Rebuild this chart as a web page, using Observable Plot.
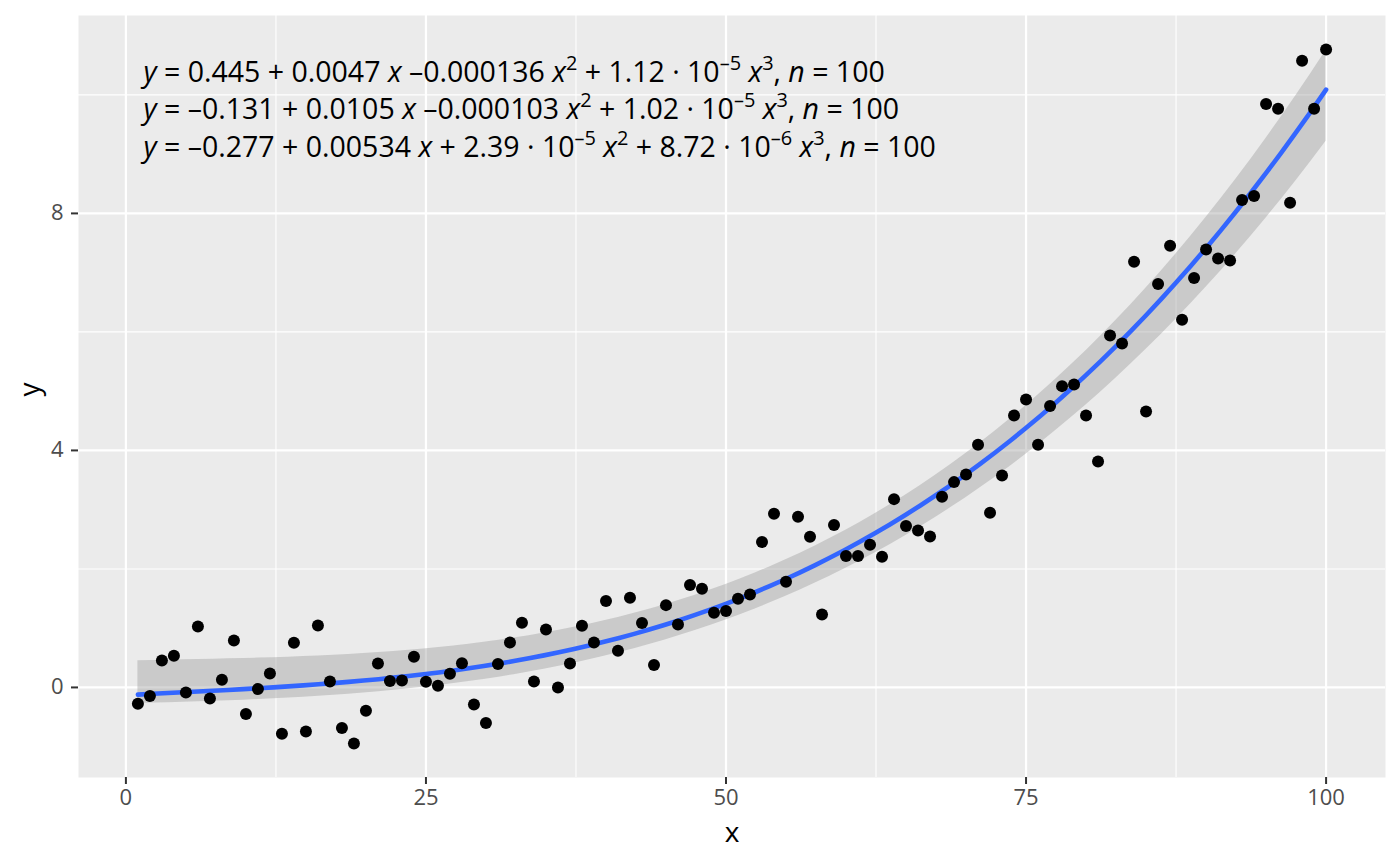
<!DOCTYPE html>
<html>
<head>
<meta charset="utf-8">
<script src="https://cdn.jsdelivr.net/npm/d3@7"></script>
<script src="https://cdn.jsdelivr.net/npm/@observablehq/plot@0.6"></script>
<style>
  html, body { margin: 0; padding: 0; background: #ffffff; }
  #chart { width: 1400px; height: 866px; }
</style>
</head>
<body>
<div id="chart"></div>
<script>
// ---- data ----
const xValues = [1,2,3,4,5,6,7,8,9,10,11,12,13,14,15,16,17,18,19,20,
  21,22,23,24,25,26,27,28,29,30,31,32,33,34,35,36,37,38,39,40,
  41,42,43,44,45,46,47,48,49,50,51,52,53,54,55,56,57,58,59,60,
  61,62,63,64,65,66,67,68,69,70,71,72,73,74,75,76,77,78,79,80,
  81,82,83,84,85,86,87,88,89,90,91,92,93,94,95,96,97,98,99,100];
const yValues = [-0.275,-0.146,0.456,0.535,-0.084,1.03,-0.186,0.13,0.793,-0.45,
  -0.028,0.236,-0.78,0.754,-0.743,1.046,0.101,-0.686,-0.945,-0.394,
  0.405,0.107,0.118,0.518,0.096,0.028,0.231,0.41,-0.287,-0.602,
  0.394,0.759,1.092,0.101,0.979,0.0,0.405,1.041,0.759,1.457,
  0.619,1.513,1.086,0.377,1.389,1.063,1.727,1.665,1.26,1.288,
  1.497,1.57,2.453,2.93,1.784,2.88,2.543,1.232,2.74,2.22,
  2.22,2.408,2.205,3.178,2.723,2.65,2.549,3.218,3.465,3.595,
  4.096,2.948,3.578,4.59,4.86,4.096,4.748,5.085,5.114,4.59,
  3.814,5.94,5.806,7.184,4.658,6.807,7.454,6.205,6.909,7.392,
  7.24,7.207,8.225,8.293,9.845,9.767,8.18,10.577,9.767,10.768];

// polynomial coefficients as printed on the chart (intercept, x, x^2, x^3)
const coefUpper = [0.445, 0.0047, -0.000136, 1.12e-5];   // band top
const coefFit   = [-0.131, 0.0105, -0.000103, 1.02e-5];  // fitted line
const coefLower = [-0.277, 0.00534, 2.39e-5, 8.72e-6];   // band bottom

const xTicks = [0, 25, 50, 75, 100];
const xMinor = [12.5, 37.5, 62.5, 87.5];
const yTicks = [0, 4, 8];
const yMinor = [2, 6, 10];
const equationLabels = [
  "*y* = 0.445 + 0.0047 *x* –0.000136 *x*^2 + 1.12 · 10^–5 *x*^3, *n* = 100",
  "*y* = –0.131 + 0.0105 *x* –0.000103 *x*^2 + 1.02 · 10^–5 *x*^3, *n* = 100",
  "*y* = –0.277 + 0.00534 *x* + 2.39 · 10^–5 *x*^2 + 8.72 · 10^–6 *x*^3, *n* = 100"
];

const points = xValues.map((x, i) => ({x, y: yValues[i]}));

// evaluate the printed polynomials over the data range (80 points, like stat_smooth)
const poly = (c, x) => c[0] + c[1] * x + c[2] * x * x + c[3] * x * x * x;
const [xLo, xHi] = d3.extent(xValues);
const fit = d3.range(80).map(i => {
  const x = xLo + (xHi - xLo) * i / 79;
  return {x, fit: poly(coefFit, x), lo: poly(coefLower, x), hi: poly(coefUpper, x)};
});

const FONT = "Open Sans";
const eqSize = 28.5;

const plot = Plot.plot({
  width: 1400,
  height: 866,
  marginLeft: 78,
  marginRight: 15,
  marginTop: 15,
  marginBottom: 89,
  style: {fontFamily: FONT, background: "#ffffff", overflow: "visible"},
  x: {domain: [-3.95, 104.95]},
  y: {domain: [-1.52, 11.34]},
  marks: [
    Plot.frame({fill: "#ebebeb", stroke: null}),
    Plot.gridX(xMinor, {stroke: "#ffffff", strokeOpacity: 1, strokeWidth: 1.1}),
    Plot.gridY(yMinor, {stroke: "#ffffff", strokeOpacity: 1, strokeWidth: 1.1}),
    Plot.gridX(xTicks, {stroke: "#ffffff", strokeOpacity: 1, strokeWidth: 2.2}),
    Plot.gridY(yTicks, {stroke: "#ffffff", strokeOpacity: 1, strokeWidth: 2.2}),
    Plot.areaY(fit, {x: "x", y1: "lo", y2: "hi", fill: "#999999", fillOpacity: 0.4}),
    Plot.line(fit, {x: "x", y: "fit", stroke: "#3366ff", strokeWidth: 4.6}),
    Plot.dot(points, {x: "x", y: "y", r: 6, fill: "#000000", stroke: null}),
    Plot.axisX(xTicks, {tickSize: 7, tickPadding: 5, stroke: "#333333", strokeWidth: 2, color: "#4d4d4d", fontSize: 22, label: null, tickFormat: d => String(d)}),
    Plot.axisY(yTicks, {tickSize: 7, tickPadding: 8, stroke: "#333333", strokeWidth: 2, color: "#4d4d4d", fontSize: 22, label: null, tickFormat: d => String(d)}),
    Plot.text(["x"], {frameAnchor: "bottom", dy: 56, text: d => d, fontSize: 28, fill: "#000000", lineAnchor: "middle"}),
    Plot.text(["y"], {frameAnchor: "left", dx: -48, text: d => d, fontSize: 28, fill: "#000000", rotate: -90, lineAnchor: "middle"}),
    ...equationLabels.map((lab, i) => Plot.text([lab], {
      frameAnchor: "top-left", dx: 65, dy: [57, 94, 132][i], text: d => d,
      fontSize: eqSize, fill: "#000000", textAnchor: "start", lineAnchor: "middle"
    }))
  ]
});

// rich text: italics and superscripts
d3.select(plot).selectAll("text").each(function() {
  const el = this;
  const s = el.textContent;
  if (!s.includes("*")) return;
  el.textContent = "";
  const re = /(\*[^*]+\*)|(\^[^\s,]+)|([^*^]+)/g;
  let m, pendingDown = 0;
  while ((m = re.exec(s)) !== null) {
    const ts = document.createElementNS("http://www.w3.org/2000/svg", "tspan");
    if (m[1]) {
      ts.textContent = m[1].slice(1, -1);
      ts.setAttribute("font-style", "italic");
    } else if (m[2]) {
      ts.textContent = m[2].slice(1);
      ts.setAttribute("font-size", eqSize * 0.7);
      ts.setAttribute("dy", -eqSize * 0.4);
      pendingDown = eqSize * 0.4;
      el.appendChild(ts);
      continue;
    } else {
      ts.textContent = m[3];
    }
    if (pendingDown) { ts.setAttribute("dy", pendingDown); pendingDown = 0; }
    el.appendChild(ts);
  }
});

document.getElementById("chart").appendChild(plot);
</script>
</body>
</html>
